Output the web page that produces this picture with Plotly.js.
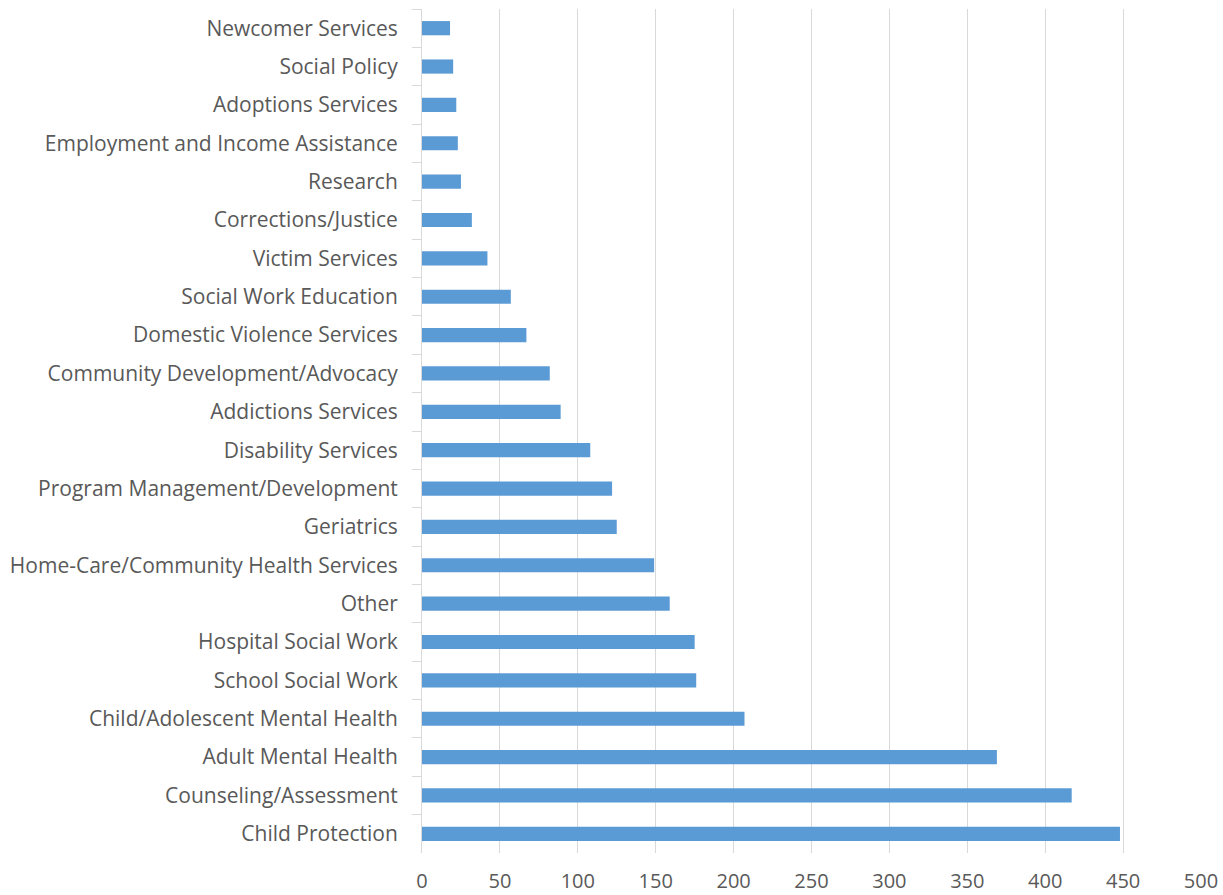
<!DOCTYPE html>
<html>
<head>
<meta charset="utf-8">
<script src="https://cdn.plot.ly/plotly-3.0.1.min.js"></script>
<style>html,body{margin:0;padding:0;background:#fff;}#chart{width:1223px;height:895px;}</style>
</head>
<body>
<div id="chart"></div>
<script>
const categories = [
  "Newcomer Services",
  "Social Policy",
  "Adoptions Services",
  "Employment and Income Assistance",
  "Research",
  "Corrections/Justice",
  "Victim Services",
  "Social Work Education",
  "Domestic Violence Services",
  "Community Development/Advocacy",
  "Addictions Services",
  "Disability Services",
  "Program Management/Development",
  "Geriatrics",
  "Home-Care/Community Health Services",
  "Other",
  "Hospital Social Work",
  "School Social Work",
  "Child/Adolescent Mental Health",
  "Adult Mental Health",
  "Counseling/Assessment",
  "Child Protection"
];
const counts = [18, 20, 22, 23, 25, 32, 42, 57, 67, 82, 89, 108, 122, 125, 149, 159, 175, 176, 207, 369, 417, 448];
const xTicks = [0, 50, 100, 150, 200, 250, 300, 350, 400, 450, 500];

const trace = {
  type: 'bar',
  orientation: 'h',
  y: categories,
  x: counts,
  marker: {color: '#5b9bd5'},
  hoverinfo: 'x+y'
};

const layout = {
  width: 1223,
  height: 895,
  margin: {l: 422, r: 22, t: 9, b: 42},
  paper_bgcolor: '#ffffff',
  plot_bgcolor: '#ffffff',
  bargap: 0.63,
  showlegend: false,
  font: {family: '"Open Sans", sans-serif', color: '#595959', size: 21},
  xaxis: {
    range: [0, 500],
    tickvals: xTicks,
    ticktext: xTicks.map(String),
    showgrid: true,
    gridcolor: '#d9d9d9',
    gridwidth: 1,
    zeroline: false,
    showline: false,
    ticks: '',
    ticklabelstandoff: 14,
    tickfont: {size: 20, color: '#595959'}
  },
  yaxis: {
    type: 'category',
    autorange: 'reversed',
    showgrid: false,
    zeroline: false,
    showline: true,
    linecolor: '#d9d9d9',
    linewidth: 1,
    ticks: 'outside',
    tickson: 'boundaries',
    ticklen: 9,
    tickcolor: '#d9d9d9',
    ticklabelstandoff: 19,
    tickfont: {size: 21, color: '#595959'}
  }
};

Plotly.newPlot('chart', [trace], layout, {displayModeBar: false, staticPlot: true});
</script>
</body>
</html>
